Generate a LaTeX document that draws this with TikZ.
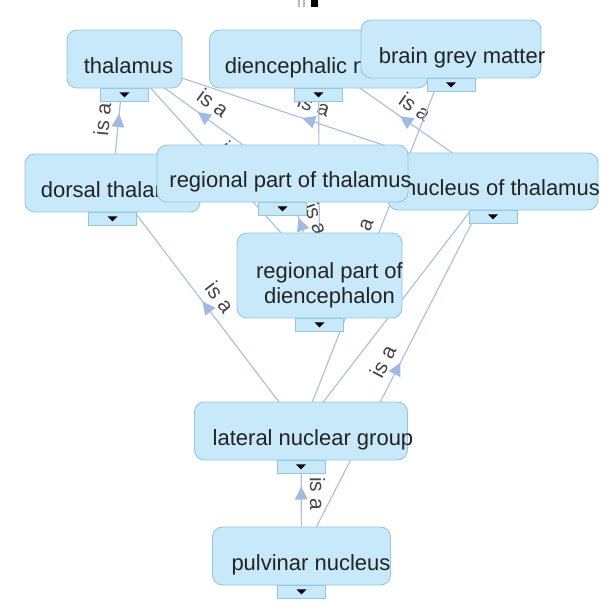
\documentclass[tikz,border=0pt]{standalone}
\usepackage{fontspec}
\setmainfont{Liberation Sans}
\usetikzlibrary{decorations.markings}

\definecolor{boxfill}{RGB}{200,233,250}
\definecolor{boxline}{RGB}{150,197,224}
\definecolor{edgecol}{RGB}{172,195,226}
\definecolor{tipcol}{RGB}{160,186,226}
\definecolor{txtcol}{RGB}{35,35,35}
\definecolor{lblcol}{RGB}{70,70,70}

\pgfdeclarelayer{bg}
\pgfdeclarelayer{edges}
\pgfsetlayers{bg,edges,main}

\tikzset{
  termbox/.style={draw=boxline, fill=boxfill, rounded corners=10pt, line width=0.9pt, inner sep=0pt},
  termtab/.style={draw=boxline, fill=boxfill, line width=0.8pt, minimum width=48pt,
    minimum height=13pt, inner sep=0pt, anchor=north},
  termtext/.style={text=txtcol, font=\fontsize{22}{25}\selectfont, inner sep=0pt, anchor=base},
  isa/.style={draw=edgecol, line width=1.2pt, postaction={decorate, decoration={markings,
    mark=at position 0.5 with {\fill[tipcol] (7pt,0pt) -- (-6pt,6.5pt) -- (-6pt,-6.5pt) -- cycle;}}}},
  isaback/.style={draw=edgecol, line width=1.2pt, postaction={decorate, decoration={markings,
    mark=at position 0.5 with {\fill[tipcol] (-7pt,0pt) -- (6pt,6.5pt) -- (6pt,-6.5pt) -- cycle;}}}},
  lbl/.style={text=lblcol, font=\fontsize{21}{21}\selectfont, inner sep=8pt, sloped, above, pos=0.5},
}

% term box with its drop-down tab: name, centre x, centre y, width, height
\newcommand\termbox[5]{%
  \node[termtab] (#1tab) at (#2,#3+#5/2) {};
  \node[termbox, minimum width=#4pt, minimum height=#5pt] (#1) at (#2,#3) {};
  \fill[black] ([xshift=-5pt,yshift=2.5pt]#1tab.center) -- ++(10pt,0pt) -- ++(-5pt,-5pt) -- cycle;
}

\begin{document}
\begin{tikzpicture}[x=1pt,y=-1pt]
\useasboundingbox (0,0) rectangle (615,605);
\begin{pgfonlayer}{bg}
  \fill[white] (0,0) rectangle (615,605);
\end{pgfonlayer}

% toolbar remnant at the top edge
\fill[gray!55] (298,0) rectangle (300,7);
\fill[gray!55] (303,0) rectangle (305,7);
\fill[black] (311,0) rectangle (318,7);

% terms, back to front
\termbox{thal}{124.5}{59}{115}{58}
\node[termtext] (thaltxt) at (128.5,73) {thalamus};

\termbox{dien}{318.5}{59}{218}{58}
\node[termtext] (dientxt) at (327,73) {diencephalic nucleus};

\termbox{bgm}{451}{49}{180}{58}
\node[termtext] (bgmtxt) at (462,63) {brain grey matter};

\termbox{dors}{112.5}{183}{175}{58}
\node[termtext] (dorstxt) at (118.5,197) {dorsal thalamus};

\termbox{nuc}{493}{181.5}{210}{57}
\node[termtext] (nuctxt) at (502,195.5) {nucleus of thalamus};

\termbox{rpt}{282.5}{173.5}{251}{57}
\node[termtext] (rpttxt) at (290.5,187.5) {regional part of thalamus};

\termbox{rpd}{319.5}{275.5}{165}{85}
\node[termtext, anchor=center, align=center] (rpdtxt) at (329.5,285) {regional part of\\diencephalon};

\termbox{lat}{301}{431}{213}{58}
\node[termtext] (lattxt) at (313,445) {lateral nuclear group};

\termbox{pulv}{301.5}{556}{178}{58}
\node[termtext] (pulvtxt) at (311,570) {pulvinar nucleus};

% is-a relations, drawn underneath the terms
\begin{pgfonlayer}{edges}
\draw[isa] (dors.center) -- node[lbl] {is a} (thal.center);
\draw[isa] (rpt.center) -- node[lbl] {is a} (thal.center);
\draw[isa] (rpd.center) -- node[lbl] {is a} (thal.center);
\draw[isa] (nuc.center) -- node[lbl] {is a} (thal.center);
\draw[isa] (rpd.center) -- node[lbl] {is a} (dien.center);
\draw[isa] (nuc.center) -- node[lbl] {is a} (dien.center);
\draw[isa] (rpd.center) -- node[lbl] {is a} (rpt.center);
\draw[isa] (lat.center) -- node[lbl] {is a} (dors.center);
\draw[isa] (lat.center) -- node[lbl] {is a} (nuc.center);
\draw[isa] (lat.center) -- node[lbl] {is a} (bgm.center);
\draw[isaback] (lat.center) -- node[lbl] {is a} (pulv.center);
\draw[isa] (pulv.center) -- node[lbl] {is a} (nuc.center);
\end{pgfonlayer}
\end{tikzpicture}
\end{document}
